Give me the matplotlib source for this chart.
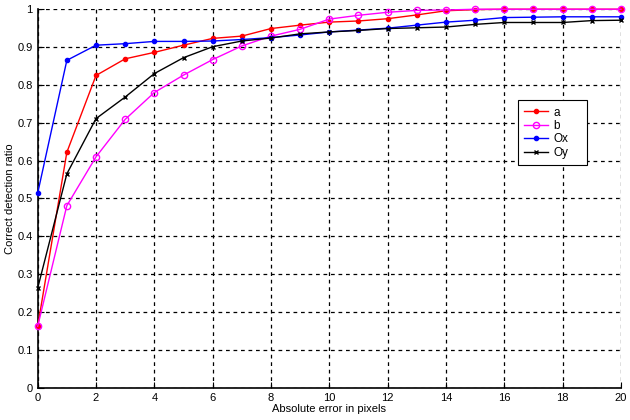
import numpy as np
import matplotlib
matplotlib.use("Agg")
import matplotlib.pyplot as plt

plt.rcParams['font.family'] = ['Liberation Sans', 'DejaVu Sans']

## Data
err = np.arange(0, 21)
a  = [0.162, 0.622, 0.825, 0.869, 0.886, 0.905, 0.923, 0.929, 0.949, 0.958, 0.966,
      0.969, 0.975, 0.985, 0.996, 0.999, 1.0, 1.0, 1.0, 1.0, 1.0]
b  = [0.162, 0.481, 0.610, 0.709, 0.780, 0.826, 0.867, 0.903, 0.929, 0.947, 0.974,
      0.984, 0.992, 0.997, 0.998, 1.0, 1.0, 1.0, 1.0, 1.0, 1.0]
ox = [0.514, 0.865, 0.905, 0.909, 0.915, 0.915, 0.916, 0.920, 0.925, 0.932, 0.940,
      0.945, 0.950, 0.958, 0.966, 0.971, 0.978, 0.979, 0.980, 0.980, 0.980]
oy = [0.263, 0.565, 0.711, 0.768, 0.830, 0.872, 0.901, 0.916, 0.924, 0.935, 0.940,
      0.944, 0.949, 0.951, 0.953, 0.960, 0.965, 0.965, 0.965, 0.970, 0.971]
names = ['a', 'b', 'Ox', 'Oy']

## Figure
fig = plt.figure(figsize=(6.3, 4.2), dpi=100)
ax = fig.add_axes([0.0598, 0.0769, 0.9259, 0.9011])

ax.plot(err, a, color='#ff0000', marker='o', ms=3, lw=1, label=names[0], clip_on=False, zorder=3)
ax.plot(err, b, color='#ff00ff', marker='o', ms=4.5, mfc='none', mew=1, lw=1, label=names[1],
        clip_on=False, zorder=3)
ax.plot(err, ox, color='#0000ff', marker='o', ms=3, lw=1, label=names[2], clip_on=False, zorder=3)
ax.plot(err, oy, color='black', marker='x', ms=3, mew=1, lw=1, label=names[3], clip_on=False, zorder=3)

ax.set_xlim(0, 20); ax.set_ylim(0, 1)
ax.set_xticks(np.arange(0, 21, 2))
ax.set_yticks(np.arange(0, 1.01, 0.1))
ax.set_yticklabels(['0', '0.1', '0.2', '0.3', '0.4', '0.5', '0.6', '0.7', '0.8', '0.9', '1'])
ax.grid(True, color='black', ls=(0, (3, 3)), lw=0.9)
ax.tick_params(direction='in', length=4, labelsize=8, width=0.8)
for s in ['top', 'right']:
    ax.spines[s].set_visible(False)
for s in ['left', 'bottom']:
    ax.spines[s].set_linewidth(1.2)

ax.set_xlabel('Absolute error in pixels', fontsize=8, labelpad=1)
ax.set_ylabel('Correct detection ratio', fontsize=8, labelpad=2)

leg = ax.legend(loc='upper left', bbox_to_anchor=(0.823, 0.599, 0.119, 0.161), mode='expand',
                fontsize=8.5, fancybox=False, framealpha=1, edgecolor='black',
                handlelength=2.0, borderpad=0.55, labelspacing=0.12, handletextpad=0.5,
                borderaxespad=0)
leg.get_frame().set_linewidth(0.8)

fig.savefig('out.png', dpi=100)
